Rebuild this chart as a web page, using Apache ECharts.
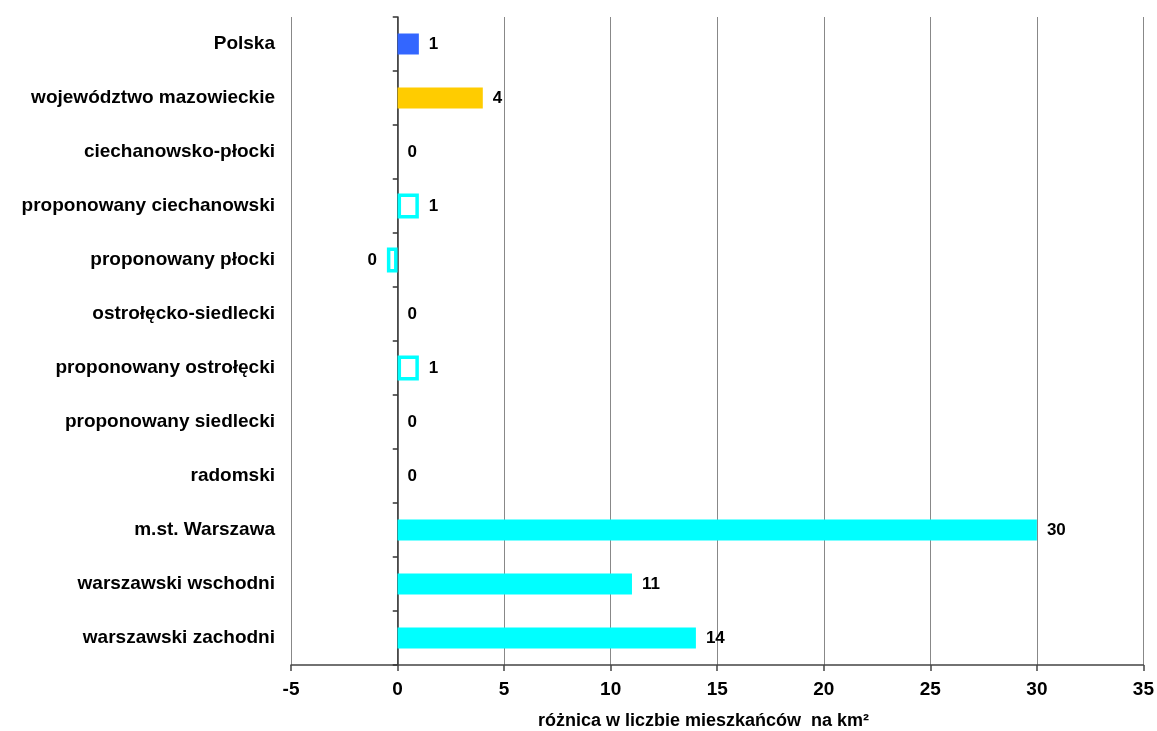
<!DOCTYPE html>
<html>
<head>
<meta charset="utf-8">
<script src="https://cdn.jsdelivr.net/npm/echarts@6/dist/echarts.min.js"></script>
<style>html,body{margin:0;padding:0;background:#fff}#c{width:1157px;height:731px}</style>
</head>
<body>
<div id="c"></div>
<script>
const categories = ['Polska','województwo mazowieckie','ciechanowsko-płocki','proponowany ciechanowski','proponowany płocki','ostrołęcko-siedlecki','proponowany ostrołęcki','proponowany siedlecki','radomski','m.st. Warszawa','warszawski wschodni','warszawski zachodni'];
const values = [1, 4, 0, 1, -0.5, 0, 1, 0, 0, 30, 11, 14];
const kinds = ['country','voivodeship','subregion','proposed','proposed','subregion','proposed','subregion','subregion','subregion','subregion','subregion'];
const xTicks = {min: -5, max: 35, step: 5};
const axisTitle = 'różnica w liczbie mieszkańców  na km²';

const FONT = 'Liberation Sans, Arial, sans-serif';
const kindColor = {country: '#3366FF', voivodeship: '#FFCC00', subregion: '#00FFFF', proposed: '#00FFFF'};

const GRID = {left: 291, right: 12, top: 17, bottom: 66};
const W = 1157;
const plotW = W - GRID.left - GRID.right;
const zeroX = GRID.left + (0 - xTicks.min) / (xTicks.max - xTicks.min) * plotW;

const labelCfg = {
  show: true, distance: 10,
  fontFamily: FONT, fontWeight: 'bold', fontSize: 17, color: '#000',
  formatter: p => { const r = Math.round(p.value); return String(r === 0 ? 0 : r); }
};

const filledData = values.map((v, i) => kinds[i] === 'proposed' ? '-' : {
  value: v,
  itemStyle: {color: kindColor[kinds[i]]},
  label: {position: v < 0 ? 'left' : 'right'}
});
const hollowData = values.map((v, i) => kinds[i] !== 'proposed' ? '-' : {
  value: v,
  itemStyle: {color: 'rgba(255,255,255,0)', borderColor: kindColor[kinds[i]], borderWidth: 3.5},
  label: {position: v < 0 ? 'left' : 'right'}
});

const chart = echarts.init(document.getElementById('c'), null, {renderer: 'canvas'});
chart.setOption({
  animation: false,
  backgroundColor: '#fff',
  title: {
    text: axisTitle,
    left: 538, top: 712, padding: 0,
    textStyle: {fontFamily: FONT, fontWeight: 'bold', fontSize: 18, color: '#000'}
  },
  grid: [
    {left: GRID.left, right: GRID.right, top: GRID.top, bottom: GRID.bottom, containLabel: false},
    {left: zeroX, width: 1, top: GRID.top, bottom: GRID.bottom, containLabel: false}
  ],
  xAxis: [
    {
      type: 'value', gridIndex: 0, min: xTicks.min, max: xTicks.max, interval: xTicks.step,
      axisLine: {show: true, onZero: false, lineStyle: {color: '#444', width: 1.5}},
      axisTick: {show: true, length: 6, lineStyle: {color: '#444', width: 1.5}},
      axisLabel: {fontFamily: FONT, fontWeight: 'bold', fontSize: 19, color: '#000', margin: 15},
      splitLine: {show: true, lineStyle: {color: '#888', width: 1}}
    },
    {type: 'value', gridIndex: 1, show: false, min: 0, max: 1}
  ],
  yAxis: [
    {
      type: 'category', gridIndex: 0, data: categories, inverse: true, position: 'left',
      axisLine: {show: false}, axisTick: {show: false},
      axisLabel: {fontFamily: FONT, fontWeight: 'bold', fontSize: 19, color: '#000', margin: 16}
    },
    {type: 'category', gridIndex: 0, data: categories, inverse: true, show: false},
    {
      type: 'category', gridIndex: 1, data: categories, inverse: true, position: 'left',
      axisLine: {show: true, onZero: false, lineStyle: {color: '#333', width: 1.5}},
      axisTick: {show: true, length: 5, lineStyle: {color: '#333', width: 1.5}},
      axisLabel: {show: false}, splitLine: {show: false}
    }
  ],
  series: [
    {type: 'bar', xAxisIndex: 0, yAxisIndex: 0, barWidth: 21, data: filledData, label: labelCfg, z: 3},
    {type: 'bar', xAxisIndex: 0, yAxisIndex: 1, barWidth: 25, data: hollowData, label: labelCfg, z: 4}
  ]
});
</script>
</body>
</html>
